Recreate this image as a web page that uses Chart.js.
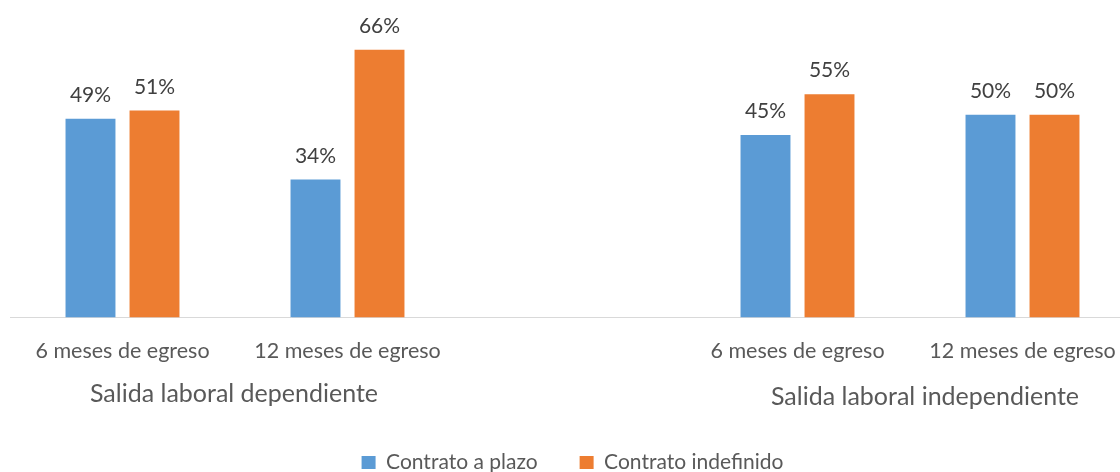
<!DOCTYPE html>
<html>
<head>
<meta charset="utf-8">
<script src="https://cdn.jsdelivr.net/npm/chart.js@4"></script>
<style>
  html, body { margin: 0; padding: 0; background: #fff; overflow: hidden; }
  #wrap { width: 1135px; height: 472px; }
</style>
</head>
<body>
<div id="wrap"><canvas id="barChart"></canvas></div>
<script>
// datos del gráfico (la categoría vacía separa los dos grupos)
const categorias = ['6 meses de egreso', '12 meses de egreso', '', '6 meses de egreso', '12 meses de egreso'];
const grupos = ['Salida laboral dependiente', 'Salida laboral independiente'];
const contratoPlazo = [49, 34, null, 45, 50];
const contratoIndefinido = [51, 66, null, 55, 50];

const FUENTE = 'Lato, "Open Sans", sans-serif';

// etiquetas de porcentaje sobre cada barra
const etiquetasBarras = {
    id: 'etiquetasBarras',
    afterDatasetsDraw(chart) {
        const ctx = chart.ctx;
        ctx.save();
        ctx.font = '21px ' + FUENTE;
        ctx.fillStyle = '#404040';
        ctx.textAlign = 'center';
        ctx.textBaseline = 'alphabetic';
        chart.data.datasets.forEach((ds, i) => {
            chart.getDatasetMeta(i).data.forEach((bar, j) => {
                const v = ds.data[j];
                if (v === null) return;
                ctx.fillText(v + '%', bar.x, bar.y - 17);
            });
        });
        ctx.restore();
    }
};

// títulos de grupo bajo el eje x
const titulosGrupo = {
    id: 'titulosGrupo',
    afterDraw(chart) {
        const x = chart.scales.x;
        const ctx = chart.ctx;
        ctx.save();
        ctx.font = '25px ' + FUENTE;
        ctx.fillStyle = '#595959';
        ctx.textAlign = 'center';
        ctx.textBaseline = 'middle';
        const c1 = (x.getPixelForValue(0) + x.getPixelForValue(1)) / 2;
        const c2 = (x.getPixelForValue(3) + x.getPixelForValue(4)) / 2;
        ctx.fillText(grupos[0], c1 - 1, 394);
        ctx.fillText(grupos[1], c2 + 15, 397);
        ctx.restore();
    }
};

document.addEventListener("DOMContentLoaded", function() {
    const ctx = document.getElementById('barChart').getContext('2d');
    new Chart(ctx, {
        type: 'bar',
        data: {
            labels: categorias,
            datasets: [{
                label: 'Contrato a plazo',
                data: contratoPlazo,
                backgroundColor: '#5b9bd5',
                barPercentage: 0.78,
                categoryPercentage: 0.569
            }, {
                label: 'Contrato indefinido',
                data: contratoIndefinido,
                backgroundColor: '#ed7d31',
                barPercentage: 0.78,
                categoryPercentage: 0.569
            }]
        },
        options: {
            responsive: true,
            maintainAspectRatio: false,
            animation: false,
            layout: { padding: { top: 33.5, left: 10, right: 0, bottom: -11 } },
            plugins: {
                tooltip: { enabled: false },
                legend: {
                    position: 'bottom',
                    labels: {
                        font: { family: FUENTE, size: 21 },
                        color: '#595959',
                        boxWidth: 14,
                        boxHeight: 13,
                        padding: 42
                    }
                }
            },
            scales: {
                x: {
                    grid: { display: false },
                    border: { display: true, color: '#d9d9d9', width: 1 },
                    ticks: {
                        font: { family: FUENTE, size: 21.5 },
                        color: '#595959',
                        padding: 13,
                        maxRotation: 0,
                        autoSkip: false
                    },
                    afterFit(scale) { scale.height = 92.5; }
                },
                y: {
                    display: false,
                    min: 0,
                    max: 70
                }
            }
        },
        plugins: [etiquetasBarras, titulosGrupo]
    });
});
</script>
</body>
</html>
